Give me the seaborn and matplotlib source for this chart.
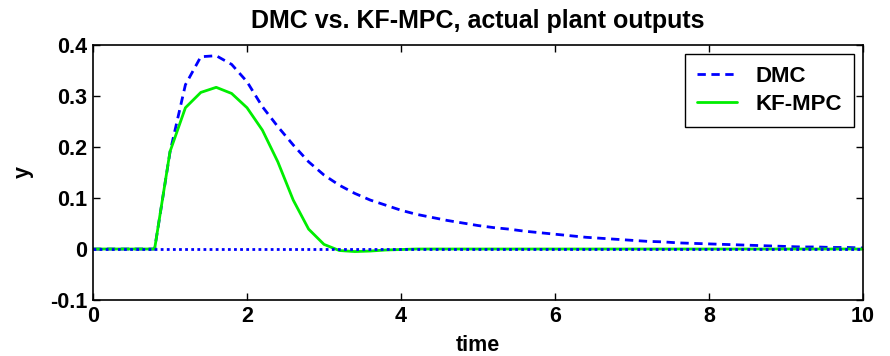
import numpy as np
import pandas as pd
import seaborn as sns
import matplotlib
matplotlib.use("Agg")
import matplotlib.pyplot as plt

time = [round(0.2 * i, 1) for i in range(51)]
dmc = [0, 0, 0, 0, 0, 0.190, 0.322, 0.377, 0.379, 0.362, 0.328, 0.279, 0.240, 0.204,
       0.171, 0.145, 0.125, 0.109, 0.096, 0.086, 0.076, 0.068, 0.062, 0.056, 0.051,
       0.046, 0.042, 0.039, 0.035, 0.032, 0.029, 0.026, 0.023, 0.021, 0.019, 0.017,
       0.015, 0.014, 0.012, 0.011, 0.010, 0.009, 0.008, 0.007, 0.006, 0.005, 0.004,
       0.004, 0.003, 0.003, 0.002]
kfmpc = [0, 0, 0, 0, 0, 0.191, 0.277, 0.307, 0.317, 0.305, 0.277, 0.233, 0.171, 0.096,
         0.039, 0.009, -0.003, -0.005, -0.004, -0.002, -0.001] + [0] * 30
setpoint = [0] * 51

sns.set_style("ticks")
plt.rcParams['font.family'] = ['Liberation Sans', 'DejaVu Sans']
plt.rcParams['font.weight'] = 'bold'
for k in ['text.color', 'axes.labelcolor', 'xtick.color', 'ytick.color']:
    plt.rcParams[k] = 'black'

fig = plt.figure(figsize=(8.9, 3.56), dpi=100)
ax = fig.add_axes([0.1045, 0.1573, 0.8652, 0.7163])

df = pd.DataFrame({"time": time, "DMC": dmc, "KF-MPC": kfmpc, "sp": setpoint})
sns.lineplot(data=df, x="time", y="DMC", ax=ax, color="#0000ff", lw=2,
             linestyle=(0, (3, 2)), label="DMC")
sns.lineplot(data=df, x="time", y="KF-MPC", ax=ax, color="#00ee00", lw=2, label="KF-MPC")
sns.lineplot(data=df, x="time", y="sp", ax=ax, color="#0000ff", lw=2,
             linestyle=(0, (1, 1.2)), label="_nolegend_")

ax.set_xlim(0, 10)
ax.set_ylim(-0.1, 0.4)
ax.set_xticks([0, 2, 4, 6, 8, 10])
ax.set_yticks([-0.1, 0, 0.1, 0.2, 0.3, 0.4])
ax.set_xticklabels(["0", "2", "4", "6", "8", "10"])
ax.set_yticklabels(["-0.1", "0", "0.1", "0.2", "0.3", "0.4"])
ax.tick_params(direction="in", top=True, right=True, length=5, width=1,
               labelsize=15.5, pad=4, colors="black")
for lab in ax.get_xticklabels() + ax.get_yticklabels():
    lab.set_fontweight("bold")
for s in ax.spines.values():
    s.set_visible(True)
    s.set_linewidth(1.2)
    s.set_color("black")

ax.set_xlabel("time", fontsize=15.5, fontweight="bold", labelpad=6)
ax.set_ylabel("y", fontsize=15.5, fontweight="bold", labelpad=12)
ax.set_title("DMC vs. KF-MPC, actual plant outputs", fontsize=18, fontweight="bold", pad=12)

leg = ax.legend(loc="upper right", bbox_to_anchor=(0.988, 0.965), fancybox=False,
                frameon=True, edgecolor="black", framealpha=1,
                prop={"size": 16, "weight": "bold"}, handlelength=1.8,
                borderpad=0.55, labelspacing=0.3, handletextpad=0.8,
                borderaxespad=0)
leg.get_frame().set_linewidth(1)

fig.savefig("out.png", dpi=100)
